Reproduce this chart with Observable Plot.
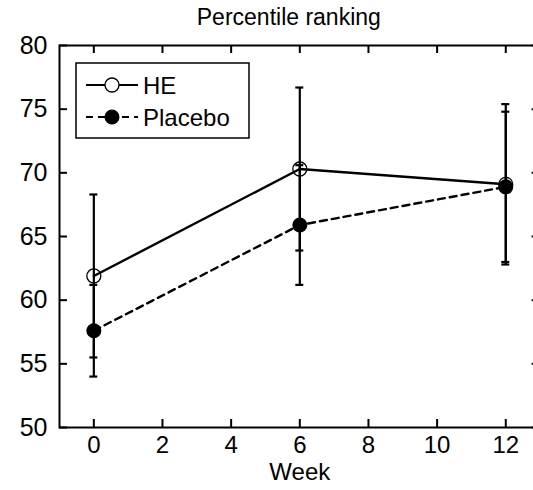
<!DOCTYPE html>
<html><head><meta charset="utf-8">
<script src="https://cdn.jsdelivr.net/npm/d3@7"></script>
<script src="https://cdn.jsdelivr.net/npm/@observablehq/plot@0.6"></script>
<style>html,body{margin:0;padding:0;overflow:hidden;background:#fff;width:533px;height:490px}</style>
</head><body><div id="chart"></div>
<script>
const weeks = [0, 6, 12];
const heMean = [61.9, 70.3, 69.1];
const heLow = [55.5, 63.9, 62.8];
const heHigh = [68.3, 76.7, 75.4];
const placeboMean = [57.6, 65.9, 68.9];
const placeboLow = [54.0, 61.2, 63.0];
const placeboHigh = [61.2, 70.6, 74.8];
const xTicks = [0, 2, 4, 6, 8, 10, 12];
const yTicks = [50, 55, 60, 65, 70, 75, 80];
const seriesNames = ["HE", "Placebo"];
const title = "Percentile ranking";
const xLabel = "Week";

const rows = (name, m, lo, hi) => weeks.map((w, i) => ({group: name, week: w, mean: m[i], lo: lo[i], hi: hi[i]}));
const he = rows(seriesNames[0], heMean, heLow, heHigh);
const pl = rows(seriesNames[1], placeboMean, placeboLow, placeboHigh);
const all = [...he, ...pl];

const W = 560, H = 490, mL = 59, mR = 20.4, mT = 45, mB = 63;
const pw = W - mL - mR, ph = H - mT - mB;
const font = "'Liberation Sans', Arial, sans-serif";
const fs = 24;

const chart = Plot.plot({
  width: W, height: H, marginLeft: mL, marginRight: mR, marginTop: mT, marginBottom: mB,
  style: {fontFamily: font, fontSize: fs + "px", color: "black", background: "white", maxWidth: "none"},
  x: {domain: [-1, 13], label: null},
  y: {domain: [50, 80], label: null},
  marks: [
    Plot.axisX(xTicks, {anchor: "bottom", tickSize: 0, tickPadding: 8, fontSize: fs, label: null}),
    Plot.axisY(yTicks, {anchor: "left", tickSize: 0, tickPadding: 12, fontSize: 25, label: null}),
    Plot.ruleX(xTicks, {x: d => d, insetTop: ph - 8, strokeWidth: 2}),
    Plot.ruleX(xTicks, {x: d => d, insetBottom: ph - 8, strokeWidth: 2}),
    Plot.ruleY(yTicks, {y: d => d, insetRight: pw - 8, strokeWidth: 2}),
    Plot.ruleY(yTicks, {y: d => d, insetLeft: pw - 8, strokeWidth: 2}),
    Plot.frame({stroke: "black", strokeWidth: 2}),
    Plot.text([title], {frameAnchor: "top", dy: -28, dx: -11, lineAnchor: "middle", fontSize: 23}),
    Plot.text([xLabel], {frameAnchor: "bottom", dy: 45, lineAnchor: "middle", fontSize: fs}),
    Plot.ruleX(all, {x: "week", y1: "lo", y2: "hi", strokeWidth: 2.2}),
    Plot.ruleY(all, {y: "lo", x1: "week", x2: "week", insetLeft: -4, insetRight: -4, strokeWidth: 2.2}),
    Plot.ruleY(all, {y: "hi", x1: "week", x2: "week", insetLeft: -4, insetRight: -4, strokeWidth: 2.2}),
    Plot.line(he, {x: "week", y: "mean", stroke: "black", strokeWidth: 2.4}),
    Plot.line(pl, {x: "week", y: "mean", stroke: "black", strokeWidth: 2.4, strokeDasharray: "7,5"}),
    Plot.dot(pl, {x: "week", y: "mean", r: 7.5, fill: "black", stroke: "none"}),
    Plot.dot(he, {x: "week", y: "mean", r: 7, fill: "none", stroke: "black", strokeWidth: 1.3})
  ]
});
chart.style.maxWidth = "none";
chart.style.height = H + "px";
document.getElementById("chart").appendChild(chart);

// Legend
const svg = d3.select(chart);
const lg = svg.append("g").attr("class", "legend").attr("font-family", font).attr("font-size", 24).attr("text-anchor", "start");
lg.append("rect").attr("x", 76).attr("y", 63).attr("width", 173).attr("height", 75)
  .attr("fill", "white").attr("stroke", "black").attr("stroke-width", 1.5);
const rowsY = [85, 117];
seriesNames.forEach((name, i) => {
  const y = rowsY[i];
  lg.append("line").attr("x1", 86).attr("x2", 138).attr("y1", y).attr("y2", y)
    .attr("stroke", "black").attr("stroke-width", 2.2).attr("stroke-dasharray", i ? "7,5" : null);
  lg.append("circle").attr("cx", 112).attr("cy", y).attr("r", i ? 7.5 : 7)
    .attr("fill", i ? "black" : "white").attr("stroke", i ? "none" : "black").attr("stroke-width", 1.3);
  lg.append("text").attr("x", 143).attr("y", y).attr("dy", "0.36em").attr("text-anchor", "start").text(name);
});
</script></body></html>
